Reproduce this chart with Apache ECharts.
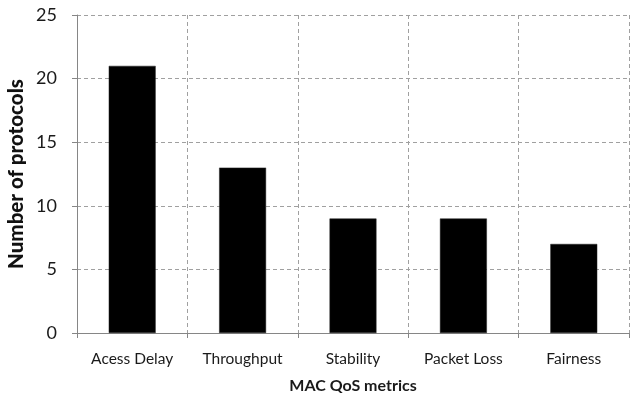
<!DOCTYPE html>
<html><head><meta charset="utf-8">
<script src="https://cdn.jsdelivr.net/npm/echarts@6/dist/echarts.min.js"></script>
<style>html,body{margin:0;padding:0;background:#fff}#c{width:630px;height:400px}</style>
</head><body><div id="c"></div>
<script>
const categories = ['Acess Delay', 'Throughput', 'Stability', 'Packet Loss', 'Fairness'];
const protocolCounts = [21, 13, 9, 9, 7];
const yTicks = [0, 5, 10, 15, 20, 25];

const chart = echarts.init(document.getElementById('c'), null, {renderer: 'canvas'});
const font = 'Lato, "Open Sans", sans-serif';
chart.setOption({
  animation: false,
  backgroundColor: '#fff',
  grid: {left: 77, right: 1, top: 15, bottom: 67, containLabel: false, outerBoundsMode: 'none'},
  xAxis: {
    type: 'category',
    data: categories,
    boundaryGap: true,
    name: 'MAC QoS metrics',
    nameLocation: 'middle',
    nameGap: 45,
    nameTextStyle: {fontFamily: font, fontWeight: 'bold', fontSize: 16, color: '#1a1a1a'},
    axisLine: {lineStyle: {color: '#868686', width: 1}},
    axisTick: {show: true, length: 5, interval: 0, alignWithLabel: false, lineStyle: {color: '#868686'}},
    axisLabel: {fontFamily: font, fontSize: 15.5, color: '#1a1a1a', margin: 18, interval: 0, hideOverlap: false},
    splitLine: {show: true, interval: 0, lineStyle: {color: '#a0a0a0', type: [4, 3], width: 1}}
  },
  yAxis: {
    type: 'value',
    min: yTicks[0],
    max: yTicks[yTicks.length - 1],
    interval: 5,
    name: 'Number of protocols',
    nameLocation: 'middle',
    nameGap: 50,
    nameMoveOverlap: false,
    nameRotate: 90,
    nameTextStyle: {fontFamily: font, fontWeight: 900, fontSize: 20.5, color: '#111'},
    axisLine: {show: true, lineStyle: {color: '#868686', width: 1}},
    axisTick: {show: true, length: 5, lineStyle: {color: '#868686'}},
    axisLabel: {fontFamily: font, fontSize: 18, color: '#1a1a1a', margin: 20},
    splitLine: {show: true, lineStyle: {color: '#a0a0a0', type: [4, 3], width: 1}}
  },
  series: [{
    type: 'bar',
    data: protocolCounts,
    barWidth: '42.5%',
    itemStyle: {color: '#000', borderColor: '#222', borderWidth: 0.5}
  }]
});
</script></body></html>
